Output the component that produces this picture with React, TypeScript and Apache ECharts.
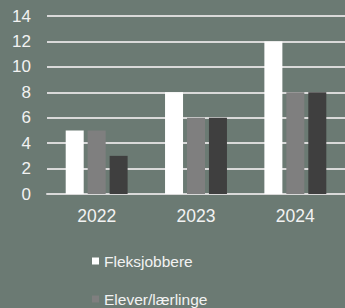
import React, { useEffect, useRef } from "react";
import * as echarts from "echarts";

const categories = ["2022", "2023", "2024"];
const fleksjobbere = [5, 8, 12];
const elever = [5, 6, 8];
const andre = [3, 6, 8];
const seriesNames = ["Fleksjobbere", "Elever/lærlinge", "Andre"];

export default function App() {
  const ref = useRef<HTMLDivElement>(null);
  useEffect(() => {
    const chart = echarts.init(ref.current!, null, { renderer: "svg" });
    const legendText = { color: "#f2f2f2", fontSize: 15.5 };
    chart.setOption({
      animation: false,
      backgroundColor: "#6b7a73",
      textStyle: { fontFamily: "Liberation Sans, Arial, sans-serif" },
      grid: { left: 47, right: -7, top: 16, bottom: 114, containLabel: false },
      legend: [
        {
          left: 87,
          top: 248,
          itemWidth: 7,
          itemHeight: 7,
          itemGap: 4,
          icon: "rect",
          data: [seriesNames[0]],
          textStyle: legendText,
        },
        {
          left: 87,
          top: 286,
          itemWidth: 7,
          itemHeight: 7,
          itemGap: 4,
          icon: "rect",
          data: [seriesNames[1]],
          textStyle: legendText,
        },
      ],
      xAxis: {
        type: "category",
        data: categories,
        axisLine: { show: true, lineStyle: { color: "#d9d9d9", width: 2 } },
        axisTick: { show: false },
        axisLabel: { color: "#f2f2f2", fontSize: 17.5, margin: 13 },
      },
      yAxis: {
        type: "value",
        min: 0,
        max: 14,
        interval: 2,
        axisLine: { show: false },
        axisTick: { show: false },
        axisLabel: { color: "#f2f2f2", fontSize: 17, margin: 16 },
        splitLine: { lineStyle: { color: "#d9d9d9", width: 2 } },
      },
      series: [
        { name: seriesNames[0], type: "bar", data: fleksjobbere, itemStyle: { color: "#ffffff" }, barWidth: 18, barGap: "22%", barCategoryGap: "39%" },
        { name: seriesNames[1], type: "bar", data: elever, itemStyle: { color: "#7f7f7f" }, barWidth: 18, barGap: "22%" },
        { name: seriesNames[2], type: "bar", data: andre, itemStyle: { color: "#3f3f3f" }, barWidth: 18, barGap: "22%" },
      ],
    });
    return () => chart.dispose();
  }, []);
  return (
    <div
      ref={ref}
      style={{ position: "fixed", left: 0, top: 0, width: 345, height: 308 }}
    />
  );
}
